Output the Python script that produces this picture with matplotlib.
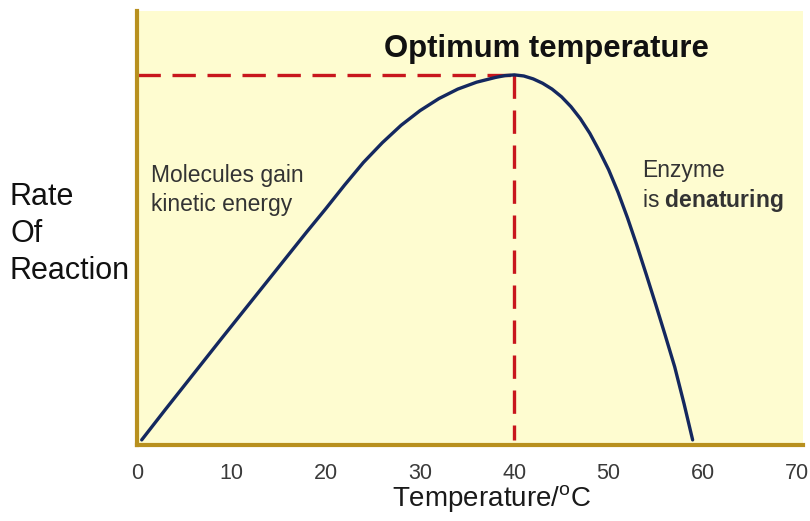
import matplotlib
matplotlib.use("Agg")
import matplotlib.pyplot as plt

plt.rcParams['font.family'] = ['Liberation Sans', 'DejaVu Sans']
plt.rcParams['mathtext.fontset'] = 'custom'
plt.rcParams['mathtext.rm'] = 'Liberation Sans'
plt.rcParams['mathtext.bf'] = 'Liberation Sans:bold'

# Data
temperature = [0.5, 3, 6, 9, 12, 15, 18, 20, 22, 24, 26, 28, 30, 32, 34, 36, 38, 39, 40,
               41, 42, 43, 44, 45, 46, 47, 48, 49, 50, 51, 52, 53, 54, 55, 56, 57, 58, 58.9]
rate = [0.0, 8.3, 18.1, 27.9, 37.6, 47.3, 57.0, 63.3, 69.8, 76.0, 81.4, 86.2, 90.2, 93.5,
        96.1, 98.0, 99.3, 99.8, 100.0,
        99.7, 98.9, 97.7, 96.1, 94.0, 91.3, 88.0, 84.0, 79.2, 74.0, 67.8, 60.8, 53.2,
        45.2, 37.0, 28.6, 20.0, 9.8, 0.0]
optimum_temp = 40
optimum_rate = 100
xticks = [0, 10, 20, 30, 40, 50, 60, 70]

fig = plt.figure(figsize=(8.1, 5.21), dpi=100)
ax = fig.add_axes([137/810, 1-445/521, (803-137)/810, (445-11)/521])
ax.set_facecolor('#FEFCD0')
ax.set_xlim(0, 70.6)
ax.set_ylim(-1.4, 117.5)

ax.plot(temperature, rate, color='#14285F', lw=2.4, solid_capstyle='round',
        solid_joinstyle='round', zorder=3)
ax.plot([0, optimum_temp], [optimum_rate, optimum_rate], color='#C8161D', lw=2.4,
        dashes=(7, 3.5), zorder=2)
ax.plot([optimum_temp, optimum_temp], [optimum_rate, 0], color='#C8161D', lw=2.4,
        dashes=(7, 3.5), zorder=2)

for s in ['top', 'right']:
    ax.spines[s].set_visible(False)
for s in ['left', 'bottom']:
    ax.spines[s].set_color('#B8901E')
    ax.spines[s].set_linewidth(3)

ax.set_xticks(xticks)
ax.set_xticklabels([str(t) for t in xticks])
ax.tick_params(axis='x', length=0, pad=13, labelsize=15.5, labelcolor='#3a3a3a')
ax.set_yticks([])

fig.text(492/810, 1-507/521, 'Temperature/$^{\\mathrm{o}}$C', fontsize=20,
         color='#1a1a1a', ha='center', va='baseline')

ax.text(43.4, 107.2, 'Optimum temperature', fontsize=22.4, fontweight='bold',
        ha='center', va='center', color='#111111')
ax.text(1.5, 75.5, 'Molecules gain\nkinetic energy', fontsize=16.5, ha='left', va='top',
        color='#333333', linespacing=1.3)
ax.text(53.5, 77.0, 'Enzyme\nis $\\mathbf{denaturing}$', fontsize=16.5, ha='left', va='top',
        color='#333333', linespacing=1.25)

fig.text(10/810, 1-182/521, 'Rate\nOf\nReaction', fontsize=22, ha='left', va='top',
         color='#111111', linespacing=1.3)

fig.savefig('out.png', dpi=100, facecolor='white')
